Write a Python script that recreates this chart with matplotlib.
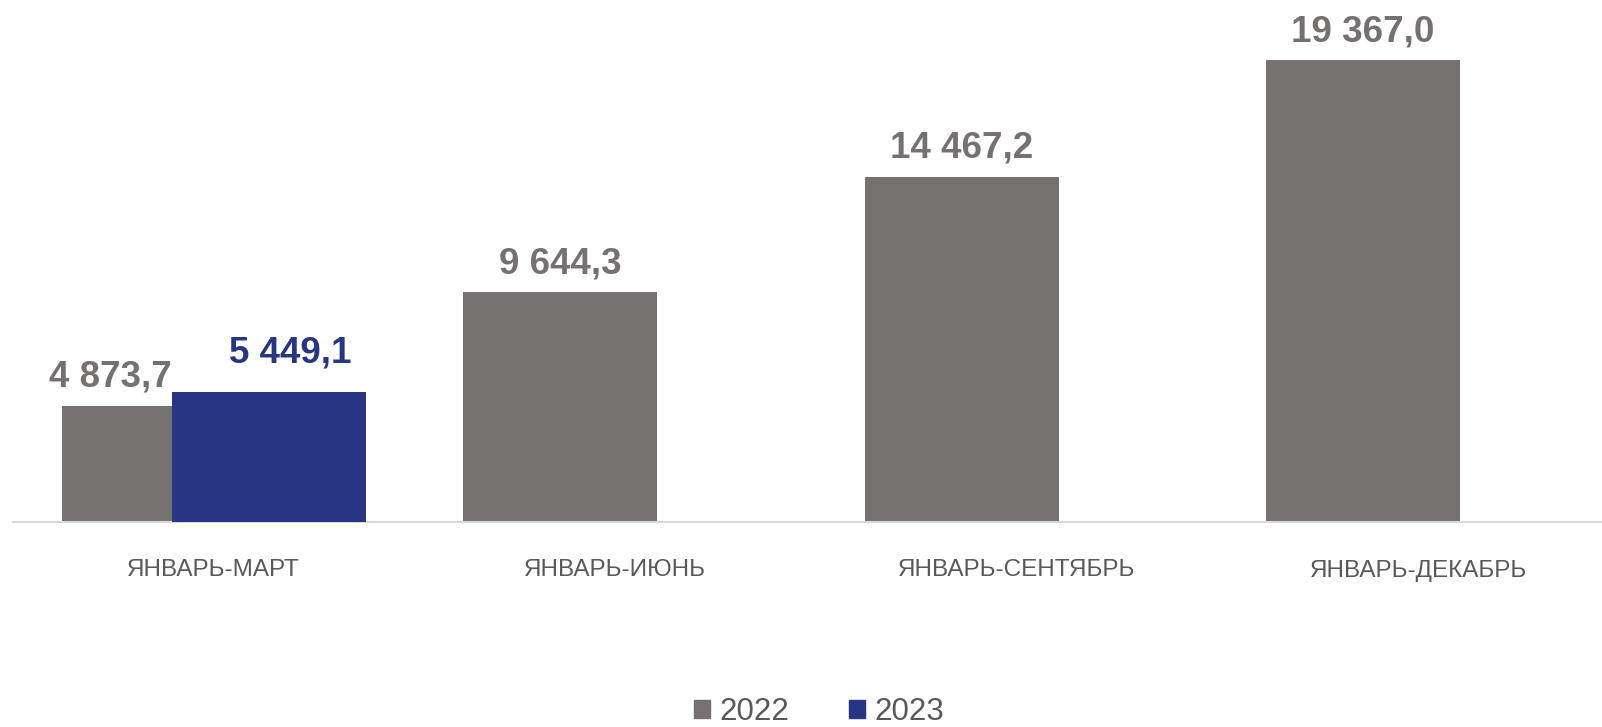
import numpy as np
import matplotlib
matplotlib.use("Agg")
from matplotlib import pyplot as plt
from matplotlib.patches import Patch

categories = ['ЯНВАРЬ-МАРТ', 'ЯНВАРЬ-ИЮНЬ', 'ЯНВАРЬ-СЕНТЯБРЬ', 'ЯНВАРЬ-ДЕКАБРЬ']
values_2022 = [4873.7, 9644.3, 14467.2, 19367.0]
values_2023 = [5449.1]
series_names = ['2022', '2023']

gray = '#767171'
blue = '#283583'
text_gray = '#595959'

plt.rcParams['font.family'] = ['Liberation Sans', 'DejaVu Sans']


def fmt(v):
    return f"{v:,.1f}".replace(',', ' ').replace('.', ',')


fig = plt.figure(figsize=(16.02, 7.27), dpi=100)
ax = fig.add_axes([13 / 1602, 205 / 727, 1589 / 1602, 522 / 727])

x = np.arange(len(categories))
width = 0.483
shift = 0.137

x22 = x - shift
x23 = x[:len(values_2023)] + shift
ax.bar(x22, values_2022, width, color=gray, zorder=2)
ax.bar(x23, values_2023, width, color=blue, zorder=3)

# label offsets in points (dx, dy); the first group is nudged apart
off22 = [(-35, 14), (0, 13), (0, 14), (0, 13.5)]
off23 = [(15.5, 21)]
for xi, v, (dx, dy) in zip(x22, values_2022, off22):
    ax.annotate(fmt(v), (xi, v), xytext=(dx, dy), textcoords='offset points',
                ha='center', va='baseline', fontsize=26.5, fontweight='bold', color=gray)
for xi, v, (dx, dy) in zip(x23, values_2023, off23):
    ax.annotate(fmt(v), (xi, v), xytext=(dx, dy), textcoords='offset points',
                ha='center', va='baseline', fontsize=26.5, fontweight='bold', color=blue)

ax.set_xlim(-0.5, 3.458)
ax.set_ylim(0, 21882)
ax.set_xticks(x)
ax.set_xticklabels(categories, fontsize=17.5, color=text_gray)
ax.tick_params(axis='x', length=0, pad=27)
ax.set_yticks([])
for s in ['top', 'right', 'left']:
    ax.spines[s].set_visible(False)
ax.spines['bottom'].set_color('#d9d9d9')
ax.spines['bottom'].set_linewidth(1.5)

handles = [Patch(color=gray), Patch(color=blue)]
fig.legend(handles, series_names, loc='lower center', bbox_to_anchor=(819 / 1602, 0.0),
           ncol=2, frameon=False, fontsize=22.5, handlelength=0.52, handleheight=0.52,
           handletextpad=0.3, columnspacing=1.9, labelcolor=text_gray,
           borderpad=0, borderaxespad=0)

fig.savefig('out.png', dpi=100)
